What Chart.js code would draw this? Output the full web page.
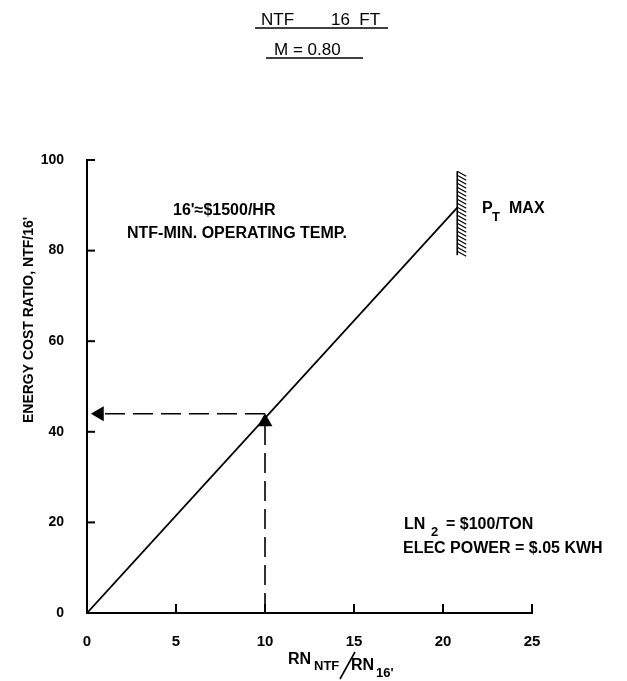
<!DOCTYPE html>
<html>
<head>
<meta charset="utf-8">
<script src="https://cdn.jsdelivr.net/npm/chart.js@4.4.0/dist/chart.umd.min.js"></script>
<style>
body{margin:0;background:#fff;}
#chart{display:block;}
</style>
</head>
<body>
<canvas id="chart" width="627" height="681"></canvas>
<script>
// data
var rnRatio = [0, 20.8];          // RN_NTF / RN_16'
var costRatio = [0, 89.5];        // energy cost ratio NTF/16'
var readRn = 10;                  // example read-off
var readCost = 44;
var ptMaxRn = 20.8;               // P_T max limit
var ptMaxRange = [79, 97.5];
var xTicks = [0, 5, 10, 15, 20, 25];
var yTicks = [0, 20, 40, 60, 80, 100];

var FONT = '"Liberation Sans", Arial, sans-serif';

function pts(xs, ys){
    var out = [];
    for(var i = 0; i < xs.length; i++) out.push({x: xs[i], y: ys[i]});
    return out;
}

var extras = {
    id: 'extras',
    afterDraw: function(chart){
        var ctx = chart.ctx;
        var xs = chart.scales.x, ys = chart.scales.y;
        ctx.save();
        ctx.fillStyle = '#000';
        ctx.strokeStyle = '#000';
        ctx.textBaseline = 'alphabetic';
        ctx.textAlign = 'left';

        // inward tick marks
        ctx.lineWidth = 2;
        var x0 = xs.getPixelForValue(0), y0 = ys.getPixelForValue(0);
        yTicks.forEach(function(v){
            if(v == 0) return;
            var p = ys.getPixelForValue(v);
            ctx.beginPath(); ctx.moveTo(x0, p); ctx.lineTo(x0 + 8, p); ctx.stroke();
        });
        xTicks.forEach(function(v){
            if(v == 0) return;
            var p = xs.getPixelForValue(v);
            ctx.beginPath(); ctx.moveTo(p, y0); ctx.lineTo(p, y0 - 9); ctx.stroke();
        });

        // hatching on the P_T max limit
        var hx = xs.getPixelForValue(ptMaxRn);
        var hTop = ys.getPixelForValue(ptMaxRange[1]);
        var hBot = ys.getPixelForValue(ptMaxRange[0]);
        ctx.lineWidth = 1.2;
        for(var y = hTop; y < hBot - 3; y += 4){
            ctx.beginPath(); ctx.moveTo(hx, y); ctx.lineTo(hx + 9, y + 5); ctx.stroke();
        }

        // title
        ctx.font = '17px ' + FONT;
        ctx.fillText('NTF', 261, 25);
        ctx.fillText('16  FT', 331, 25);
        ctx.fillText('M = 0.80', 274, 55);
        ctx.lineWidth = 1.6;
        ctx.beginPath(); ctx.moveTo(255, 28); ctx.lineTo(388, 28); ctx.stroke();
        ctx.beginPath(); ctx.moveTo(266, 58); ctx.lineTo(363, 58); ctx.stroke();

        // notes
        ctx.font = 'bold 16px ' + FONT;
        ctx.fillText("16'\u2248$1500/HR", 173, 215);
        ctx.fillText('NTF-MIN. OPERATING TEMP.', 127, 238);
        ctx.fillText('P', 482, 213);
        ctx.fillText('MAX', 509, 213);
        ctx.fillText('LN', 404, 529);
        ctx.fillText('= $100/TON', 446, 529);
        ctx.fillText('ELEC POWER = $.05 KWH', 403, 553);
        ctx.font = 'bold 13px ' + FONT;
        ctx.fillText('T', 492, 221);
        ctx.fillText('2', 431, 536);

        // y axis title
        ctx.save();
        ctx.translate(33, 320);
        ctx.rotate(-Math.PI / 2);
        ctx.textAlign = 'center';
        ctx.font = 'bold 14px ' + FONT;
        ctx.fillText("ENERGY COST RATIO, NTF/16'", 0, 0);
        ctx.restore();

        // x axis title
        ctx.font = 'bold 16px ' + FONT;
        ctx.fillText('RN', 288, 664);
        ctx.fillText('RN', 351, 670);
        ctx.font = 'bold 13px ' + FONT;
        ctx.fillText('NTF', 314, 670);
        ctx.fillText("16'", 376, 677);
        ctx.lineWidth = 1.6;
        ctx.beginPath(); ctx.moveTo(340, 679); ctx.lineTo(355, 652); ctx.stroke();
        ctx.restore();
    }
};

var chart = new Chart(document.getElementById('chart'), {
    type: 'line',
    data: {
        datasets: [{
            data: pts(rnRatio, costRatio),
            borderColor: '#000',
            borderWidth: 1.8,
            pointRadius: 0
        }, {
            data: pts([readRn, 0.7], [readCost, readCost]),
            borderColor: '#000',
            borderWidth: 1.6,
            borderDash: [20, 8],
            pointRadius: [0, 7],
            pointStyle: 'triangle',
            rotation: [0, -90],
            pointBackgroundColor: '#000',
            pointBorderColor: '#000'
        }, {
            data: pts([readRn, readRn], [0, 42.2]),
            borderColor: '#000',
            borderWidth: 1.6,
            borderDash: [20, 8],
            pointRadius: [0, 7],
            pointStyle: 'triangle',
            rotation: [0, 0],
            pointBackgroundColor: '#000',
            pointBorderColor: '#000'
        }, {
            data: pts([ptMaxRn, ptMaxRn], ptMaxRange),
            borderColor: '#000',
            borderWidth: 1.6,
            pointRadius: 0
        }]
    },
    options: {
        responsive: false,
        animation: false,
        layout: {padding: {top: 160, right: 95, left: 0, bottom: 0}},
        plugins: {legend: {display: false}, tooltip: {enabled: false}, title: {display: false}},
        scales: {
            x: {
                type: 'linear', min: 0, max: 25,
                afterBuildTicks: function(s){ s.ticks = xTicks.map(function(v){ return {value: v}; }); },
                afterFit: function(s){ s.height = 68; },
                grid: {display: false},
                border: {color: '#000', width: 2},
                ticks: {color: '#000', padding: 12, maxRotation: 0, font: {family: FONT, size: 15, weight: 'bold'}}
            },
            y: {
                type: 'linear', min: 0, max: 100,
                afterBuildTicks: function(s){ s.ticks = yTicks.map(function(v){ return {value: v}; }); },
                afterFit: function(s){ s.width = 87; },
                grid: {display: false},
                border: {color: '#000', width: 2},
                ticks: {color: '#000', padding: 15, font: {family: FONT, size: 14, weight: 'bold'}}
            }
        }
    },
    plugins: [extras]
});
</script>
</body>
</html>
